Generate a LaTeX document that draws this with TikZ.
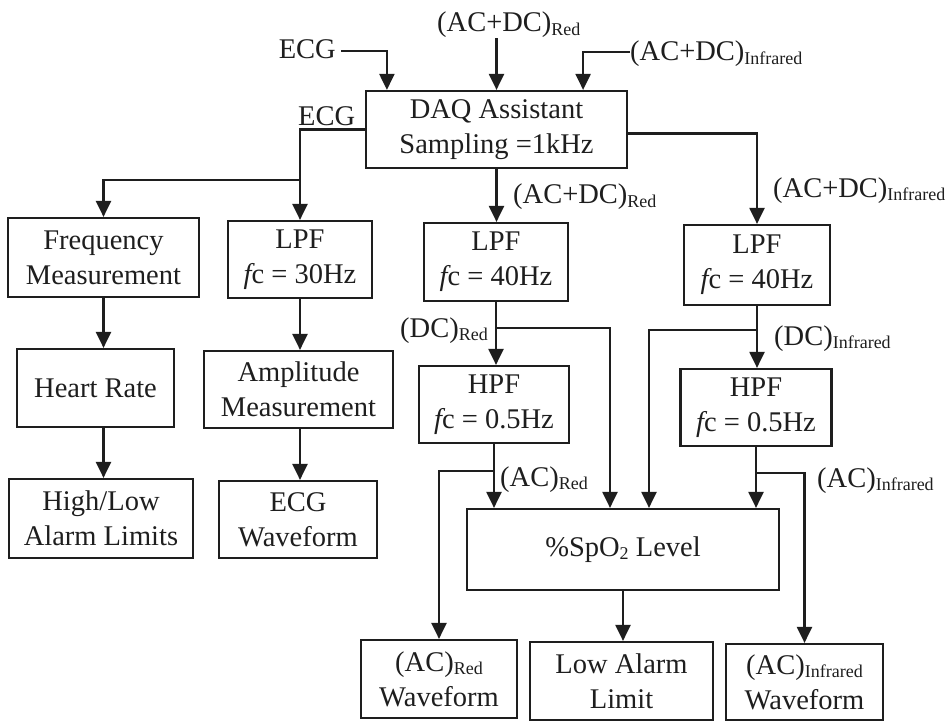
\documentclass[tikz,border=0pt]{standalone}
\usepackage{fontspec}
\setmainfont{Liberation Serif}
\usetikzlibrary{arrows.meta,calc}
\definecolor{ink}{HTML}{1E1E1E}
% lowered, smaller subscript text
\newcommand{\sbs}[1]{\raisebox{-3.5pt}{\fontsize{18}{18}\selectfont #1}}
% cut-off frequency symbol
\newcommand{\fcut}{{\itshape f}c}
\begin{document}
\begin{tikzpicture}[x=1pt,y=-1pt,
  font=\fontsize{28.5}{35}\selectfont, color=ink,
  blk/.style={draw=ink, line width=2.2pt, align=center, inner sep=0pt},
  lbl/.style={inner sep=0pt},
  arr/.style={draw=ink, line width=2.2pt, -{Triangle[length=16pt,width=15pt]}},
  wire/.style={draw=ink, line width=2.2pt}]
\useasboundingbox[fill=white] (0,0) rectangle (952,722);

% ---- boxes ----
\node[blk, minimum width=261pt, minimum height=77pt] (daq) at (496.5,129.5) {DAQ Assistant\\Sampling =1kHz};
\node[blk, minimum width=191pt, minimum height=79pt] (freq) at (103.5,257.5) {Frequency\\Measurement};
\node[blk, minimum width=144pt, minimum height=77pt] (lpf30) at (300,259.5) {LPF\\\fcut{} = 30Hz};
\node[blk, minimum width=157pt, minimum height=78pt] (hr) at (95.5,388) {Heart Rate};
\node[blk, minimum width=189pt, minimum height=77pt] (amp) at (298.5,389.5) {Amplitude\\Measurement};
\node[blk, minimum width=184pt, minimum height=79pt] (hilo) at (101,518.5) {High/Low\\Alarm Limits};
\node[blk, minimum width=158pt, minimum height=77pt] (ecgw) at (298,519.5) {ECG\\Waveform};
\node[blk, minimum width=144pt, minimum height=78pt] (lpfr) at (496,262) {LPF\\\fcut{} = 40Hz};
\node[blk, minimum width=150pt, minimum height=77pt] (hpfr) at (494,404.5) {HPF\\\fcut{} = 0.5Hz};
\node[blk, minimum width=146pt, minimum height=80pt] (lpfi) at (757,265) {LPF\\\fcut{} = 40Hz};
\node[blk, minimum width=151pt, minimum height=77pt] (hpfi) at (756,407.5) {HPF\\\fcut{} = 0.5Hz};
\node[blk, minimum width=312pt, minimum height=81pt] (spo2) at (623,549.5) {\%SpO\sbs{2} Level};
\node[blk, minimum width=156pt, minimum height=78pt] (acrw) at (439,679) {(AC)\sbs{Red}\\Waveform};
\node[blk, minimum width=183pt, minimum height=78pt] (low) at (621.5,681) {Low Alarm\\Limit};
\node[blk, minimum width=157pt, minimum height=76pt] (aciw) at (804.5,682) {(AC)\sbs{Infrared}\\Waveform};

% ---- signal labels ----
\node[lbl, anchor=base east] (ecgin) at (336,59) {ECG};
\node[lbl, anchor=base west] (acdcrin) at (437,32) {(AC+DC)\sbs{Red}};
\node[lbl, anchor=base west] (acdciin) at (630,61) {(AC+DC)\sbs{Infrared}};
\node[lbl, anchor=base west] (ecgout) at (298,126) {ECG};
\node[lbl, anchor=base west] (acdcrout) at (513,204) {(AC+DC)\sbs{Red}};
\node[lbl, anchor=base west] (acdciout) at (773,197) {(AC+DC)\sbs{Infrared}};
\node[lbl, anchor=base east] (dcrl) at (488,337) {(DC)\sbs{Red}};
\node[lbl, anchor=base west] (dcil) at (774,345) {(DC)\sbs{Infrared}};
\node[lbl, anchor=base west] (acrl) at (500,486) {(AC)\sbs{Red}};
\node[lbl, anchor=base west] (acil) at (817,487) {(AC)\sbs{Infrared}};

% ---- inputs to the DAQ ----
\draw[arr] ([xshift=5pt,yshift=8pt]ecgin.base east) -| ([xshift=22pt]daq.north west);
\draw[arr] (acdcrin.south -| daq.north) -- (daq.north);
\draw[arr] ([yshift=9pt]acdciin.base west) -| ([xshift=-45pt]daq.north east);

% ---- ECG branch ----
\coordinate (ecgsplit) at ($(lpf30.north)+(0,-40)$);
\draw[wire] (daq.west) -| (ecgsplit);
\draw[arr] (ecgsplit) -- (lpf30.north);
\draw[arr] (ecgsplit) -| (freq.north);
\draw[arr] (freq.south) -- (freq.south |- hr.north);
\draw[arr] (freq.south |- hr.south) -- (freq.south |- hilo.north);
\draw[arr] (lpf30.south) -- (lpf30.south |- amp.north);
\draw[arr] (lpf30.south |- amp.south) -- (lpf30.south |- ecgw.north);

% ---- red channel ----
\draw[arr] (daq.south) -- (daq.south |- lpfr.north);
\coordinate (dcr) at ($(lpfr.south)+(0,26)$);
\draw[arr] (lpfr.south) -- (lpfr.south |- hpfr.north);
\draw[arr] (dcr) -| ([xshift=-13pt]spo2.north);
\coordinate (acr) at ($(hpfr.south)+(0,27)$);
\draw[arr] (hpfr.south) -- (hpfr.south |- spo2.north);
\draw[arr] (acr) -| (acrw.north);

% ---- infrared channel ----
\draw[arr] ([yshift=-4pt]daq.east) -| (lpfi.north);
\coordinate (dci) at ($(lpfi.south)+(0,24)$);
\draw[arr] (lpfi.south) -- (lpfi.south |- hpfi.north);
\draw[arr] (dci) -| ([xshift=26pt]spo2.north);
\coordinate (aci) at ($(hpfi.south)+(0,26)$);
\draw[arr] (hpfi.south) -- (hpfi.south |- spo2.north);
\draw[arr] (aci) -| (aciw.north);

% ---- SpO2 output ----
\draw[arr] (spo2.south) -- (spo2.south |- low.north);
\end{tikzpicture}
\end{document}
